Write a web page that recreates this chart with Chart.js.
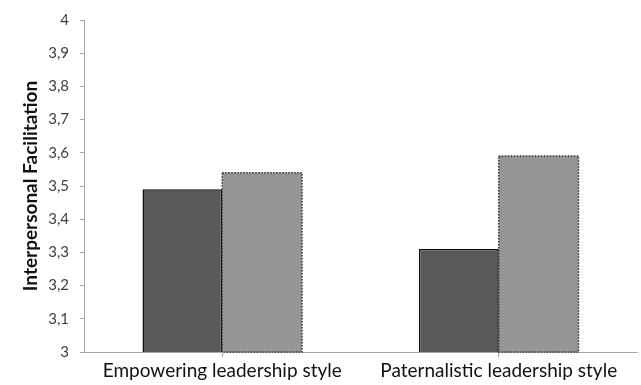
<!DOCTYPE html>
<html>
<head>
<meta charset="utf-8">
<script src="https://cdn.jsdelivr.net/npm/chart.js@4"></script>
<style>
    html, body { margin: 0; padding: 0; background: #fff; }
    #wrap { width: 641px; height: 385px; }
</style>
</head>
<body>
<div id="wrap"><canvas id="chart"></canvas></div>
<script>
const categories = ["Empowering leadership style", "Paternalistic leadership style"];
const seriesA = [3.49, 3.31];
const seriesB = [3.54, 3.59];
const yTicks = [3, 3.1, 3.2, 3.3, 3.4, 3.5, 3.6, 3.7, 3.8, 3.9, 4];

// bars can't take a dashed border, so stroke it ourselves
const dottedBorder = {
    id: "dottedBorder",
    afterDatasetsDraw(chart) {
        const ctx = chart.ctx;
        const meta = chart.getDatasetMeta(1);
        const bottom = chart.scales.y.getPixelForValue(3);
        ctx.save();
        ctx.strokeStyle = "#333";
        ctx.lineWidth = 1.5;
        ctx.setLineDash([1.5, 1.5]);
        meta.data.forEach(bar => {
            const p = bar.getProps(["x", "y", "width"], true);
            ctx.strokeRect(p.x - p.width / 2, p.y, p.width, bottom - p.y);
        });
        ctx.restore();
    }
};

const canvas = document.getElementById("chart");
const chart = new Chart(canvas, {
    type: "bar",
    data: {
        labels: categories,
        datasets: [{
            data: seriesA,
            backgroundColor: "#595959",
            borderColor: "#111",
            borderWidth: 1.5
        }, {
            data: seriesB,
            backgroundColor: "#969696",
            borderWidth: 0
        }]
    },
    options: {
        responsive: true,
        maintainAspectRatio: false,
        animation: false,
        layout: { padding: { top: 15, right: 4, left: 0, bottom: 0 } },
        plugins: {
            legend: { display: false },
            tooltip: { enabled: false }
        },
        datasets: {
            bar: { categoryPercentage: 0.577, barPercentage: 1 }
        },
        scales: {
            x: {
                grid: {
                    offset: false,
                    drawOnChartArea: false,
                    tickLength: 5,
                    color: "#a6a6a6"
                },
                border: { color: "#a6a6a6" },
                ticks: {
                    color: "#111",
                    padding: 2,
                    maxRotation: 0,
                    font: { family: "Lato", size: 19 }
                },
                afterFit: scale => { scale.height = 33; }
            },
            y: {
                min: 3,
                max: 4,
                afterBuildTicks: scale => {
                    scale.ticks = yTicks.map(v => ({ value: v }));
                },
                grid: {
                    drawOnChartArea: false,
                    tickLength: 4,
                    color: "#a6a6a6"
                },
                border: { color: "#a6a6a6" },
                ticks: {
                    color: "#404040",
                    padding: 11,
                    font: { family: "Lato", size: 15 },
                    callback: v => Number.isInteger(v) ? String(v) : v.toFixed(1).replace(".", ",")
                },
                title: {
                    display: true,
                    text: "Interpersonal Facilitation",
                    color: "#111",
                    padding: { top: 19, bottom: 0 },
                    font: { family: "Lato", size: 19, weight: "bold" }
                },
                afterFit: scale => { scale.width = 84; }
            }
        }
    },
    plugins: [dottedBorder]
});
</script>
</body>
</html>
